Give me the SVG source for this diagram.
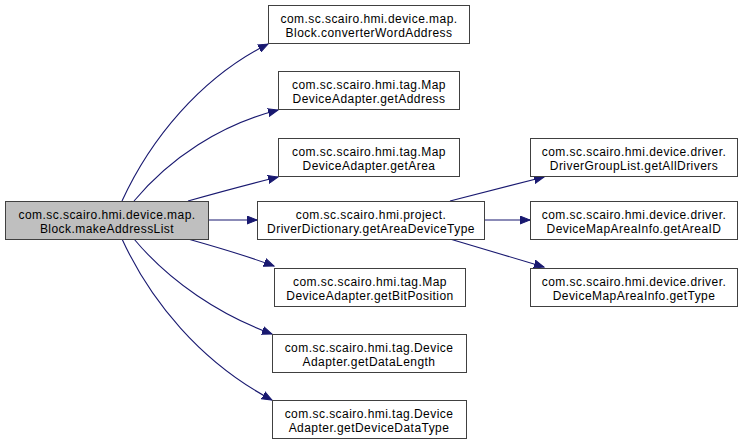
<svg xmlns="http://www.w3.org/2000/svg" width="743" height="444" viewBox="0 0 743 444">
<style>
.node rect{fill:#ffffff;stroke:#404040;stroke-width:1}
.node.main rect{fill:#bfbfbf}
.node text{font-family:"Liberation Sans",Arial,sans-serif;font-size:12px;letter-spacing:0.45px;fill:#000000;text-anchor:middle}
.edges path{fill:none;stroke:#191970;stroke-width:1.1}
</style>
<defs>
<marker id="arr" markerUnits="userSpaceOnUse" markerWidth="12" markerHeight="9" refX="10" refY="4.5" orient="auto">
<path d="M0,0.5 L10,4.5 L0,8.5 z" fill="#191970" stroke="#191970" stroke-width="1"/>
</marker>
</defs>
<rect width="743" height="444" fill="#ffffff"/>
<g class="edges">
<path d="M122,201 C150,140 200,78 268,44" marker-end="url(#arr)"/>
<path d="M134,201 C170,158 220,125 278,110" marker-end="url(#arr)"/>
<path d="M188,201 C220,192 250,184 278,177" marker-end="url(#arr)"/>
<path d="M208,220 L257,220" marker-end="url(#arr)"/>
<path d="M188,239 C220,248 250,257 274,266" marker-end="url(#arr)"/>
<path d="M134,239 C170,282 220,315 272,334" marker-end="url(#arr)"/>
<path d="M122,239 C150,300 200,362 272,400" marker-end="url(#arr)"/>
<path d="M450,201 L544,177" marker-end="url(#arr)"/>
<path d="M484,220 L530,220" marker-end="url(#arr)"/>
<path d="M450,239 L544,267" marker-end="url(#arr)"/>
</g>
<g id="main" class="node main"><rect x="5.5" y="201.5" width="203" height="38"/><text x="107" y="218.5">com.sc.scairo.hmi.device.map.</text><text x="107" y="232.5">Block.makeAddressList</text></g>
<g id="n1" class="node"><rect x="268.5" y="5.5" width="201" height="38"/><text x="369" y="22.5">com.sc.scairo.hmi.device.map.</text><text x="369" y="36.5">Block.converterWordAddress</text></g>
<g id="n2" class="node"><rect x="278.5" y="71.5" width="181" height="38"/><text x="369" y="88.5">com.sc.scairo.hmi.tag.Map</text><text x="369" y="102.5">DeviceAdapter.getAddress</text></g>
<g id="n3" class="node"><rect x="278.5" y="138.5" width="181" height="38"/><text x="369" y="155.5">com.sc.scairo.hmi.tag.Map</text><text x="369" y="169.5">DeviceAdapter.getArea</text></g>
<g id="n4" class="node"><rect x="257.5" y="201.5" width="227" height="38"/><text x="371" y="218.5">com.sc.scairo.hmi.project.</text><text x="371" y="232.5">DriverDictionary.getAreaDeviceType</text></g>
<g id="n5" class="node"><rect x="274.5" y="268.5" width="191" height="38"/><text x="370" y="285.5">com.sc.scairo.hmi.tag.Map</text><text x="370" y="299.5">DeviceAdapter.getBitPosition</text></g>
<g id="n6" class="node"><rect x="272.5" y="334.5" width="194" height="38"/><text x="369" y="351.5">com.sc.scairo.hmi.tag.Device</text><text x="369" y="365.5">Adapter.getDataLength</text></g>
<g id="n7" class="node"><rect x="272.5" y="400.5" width="194" height="38"/><text x="369" y="417.5">com.sc.scairo.hmi.tag.Device</text><text x="369" y="431.5">Adapter.getDeviceDataType</text></g>
<g id="r1" class="node"><rect x="530.5" y="138.5" width="207" height="38"/><text x="634" y="155.5">com.sc.scairo.hmi.device.driver.</text><text x="634" y="169.5">DriverGroupList.getAllDrivers</text></g>
<g id="r2" class="node"><rect x="530.5" y="201.5" width="207" height="38"/><text x="634" y="218.5">com.sc.scairo.hmi.device.driver.</text><text x="634" y="232.5">DeviceMapAreaInfo.getAreaID</text></g>
<g id="r3" class="node"><rect x="530.5" y="268.5" width="207" height="38"/><text x="634" y="285.5">com.sc.scairo.hmi.device.driver.</text><text x="634" y="299.5">DeviceMapAreaInfo.getType</text></g>
</svg>
